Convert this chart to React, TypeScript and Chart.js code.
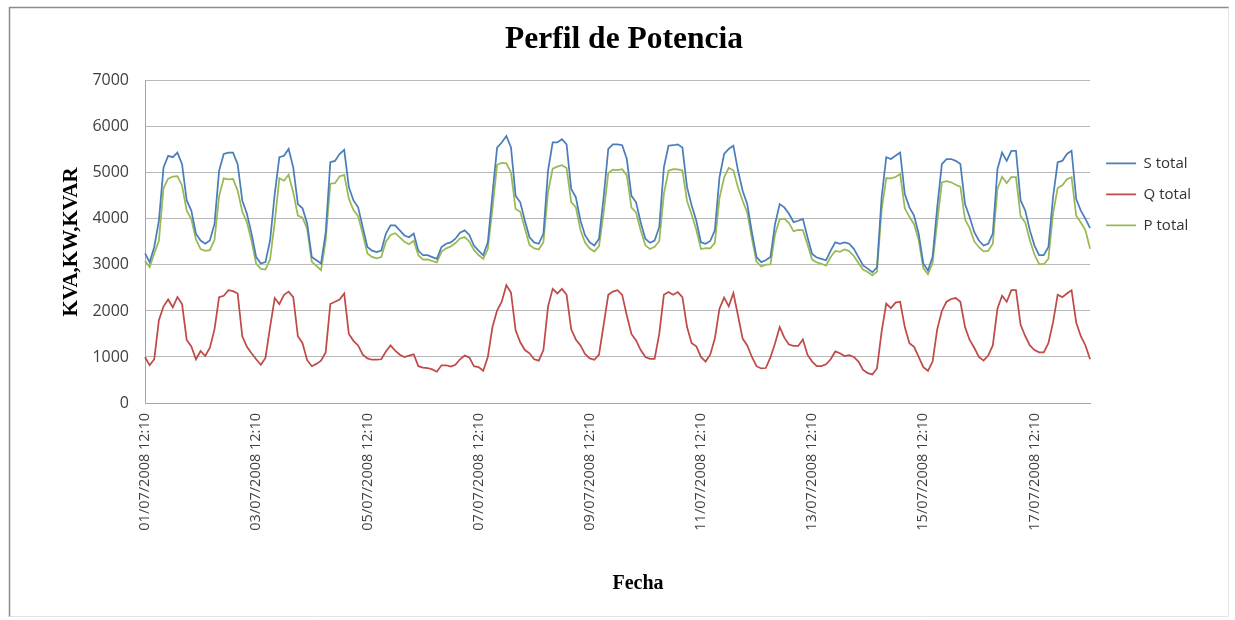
import { useEffect, useRef } from 'react';
import { Chart, registerables } from 'chart.js';

Chart.register(...registerables);

const CHART_TITLE = 'Perfil de Potencia';
const Y_TITLE = 'KVA,KW,KVAR';
const X_TITLE = 'Fecha';
const SERIES_NAMES = ['S total', 'Q total', 'P total'];
const SERIES_COLORS = ['#4a7ebb', '#be4b48', '#98b954'];

// x-axis labels shown every 2 days (24 samples of 2 h)
const TICK_LABELS = [
  '01/07/2008 12:10', '03/07/2008 12:10', '05/07/2008 12:10', '07/07/2008 12:10',
  '09/07/2008 12:10', '11/07/2008 12:10', '13/07/2008 12:10', '15/07/2008 12:10',
  '17/07/2008 12:10',
];
const TICK_EVERY = 24;
const SAMPLE_HOURS = 2;

// S total (kVA), one sample each 2 h, from 01/07/2008 12:10
const S_TOTAL = [
  3250, 3060, 3390, 3960, 5120, 5370, 5340, 5440, 5190, 4400, 4180, 3680,
  3530, 3460, 3530, 3890, 5050, 5410, 5440, 5440, 5190, 4400, 4110, 3680,
  3170, 3030, 3060, 3530, 4540, 5340, 5370, 5520, 5120, 4320, 4230, 3900,
  3170, 3100, 3030, 3700, 5230, 5260, 5410, 5500, 4690, 4400, 4250, 3820,
  3390, 3310, 3280, 3310, 3680, 3860, 3860, 3750, 3640, 3600, 3680, 3310,
  3210, 3210, 3170, 3130, 3390, 3460, 3490, 3570, 3700, 3750, 3650, 3420,
  3310, 3210, 3490, 4540, 5550, 5660, 5800, 5550, 4500, 4360, 3960, 3600,
  3490, 3460, 3680, 5050, 5660, 5660, 5730, 5620, 4650, 4470, 3960, 3640,
  3490, 3420, 3570, 4470, 5520, 5620, 5620, 5600, 5300, 4500, 4360, 3920,
  3570, 3480, 3530, 3820, 5120, 5590, 5600, 5620, 5550, 4690, 4290, 3960,
  3490, 3460, 3520, 3750, 4900, 5410, 5520, 5590, 5050, 4610, 4320, 3710,
  3170, 3060, 3100, 3170, 3890, 4320, 4250, 4110, 3930, 3960, 4000, 3600,
  3240, 3160, 3130, 3100, 3310, 3490, 3460, 3490, 3460, 3350, 3170, 2990,
  2920, 2840, 2950, 4470, 5340, 5300, 5370, 5440, 4540, 4250, 4070, 3680,
  3030, 2880, 3170, 4250, 5190, 5300, 5300, 5260, 5190, 4320, 4040, 3710,
  3530, 3420, 3460, 3680, 5080, 5440, 5260, 5480, 5480, 4400, 4180, 3750,
  3420, 3210, 3210, 3390, 4470, 5230, 5260, 5410, 5480, 4430, 4180, 4000,
  3800,
];

// Q total (kVAR)
const Q_TOTAL = [
  1000, 820, 950, 1800, 2100, 2250, 2080, 2300, 2150, 1370, 1230, 950,
  1130, 1020, 1200, 1600, 2300, 2330, 2450, 2430, 2380, 1450, 1220, 1080,
  950, 830, 980, 1650, 2280, 2150, 2350, 2420, 2300, 1450, 1300, 930,
  800, 850, 920, 1100, 2150, 2200, 2250, 2380, 1500, 1350, 1250, 1050,
  970, 940, 940, 950, 1120, 1250, 1140, 1050, 1000, 1030, 1060, 800,
  770, 760, 730, 680, 820, 820, 790, 830, 950, 1030, 990, 800,
  780, 700, 1000, 1650, 2010, 2200, 2560, 2400, 1580, 1320, 1150, 1080,
  950, 920, 1150, 2100, 2480, 2380, 2480, 2350, 1600, 1380, 1250, 1060,
  970, 940, 1050, 1700, 2350, 2420, 2450, 2350, 1900, 1500, 1360, 1150,
  1000, 960, 960, 1500, 2350, 2410, 2350, 2410, 2300, 1650, 1300, 1230,
  1000, 900, 1050, 1400, 2050, 2290, 2100, 2390, 1900, 1400, 1250, 1000,
  800, 750, 760, 990, 1300, 1650, 1420, 1270, 1240, 1240, 1380, 1050,
  900, 800, 800, 840, 950, 1120, 1080, 1020, 1040, 1000, 900, 720,
  650, 620, 750, 1550, 2160, 2060, 2180, 2200, 1650, 1300, 1220, 1000,
  780, 700, 900, 1600, 2000, 2200, 2260, 2280, 2200, 1650, 1370, 1200,
  1000, 920, 1030, 1250, 2050, 2330, 2200, 2450, 2450, 1700, 1450, 1250,
  1150, 1100, 1100, 1300, 1750, 2350, 2300, 2380, 2450, 1750, 1450, 1250,
  950,
];

// P total (kW)
const P_TOTAL = [
  3090, 2950, 3250, 3525, 4670, 4875, 4920, 4930, 4720, 4180, 3995, 3555,
  3345, 3305, 3320, 3545, 4495, 4880, 4860, 4870, 4615, 4155, 3925, 3520,
  3025, 2915, 2900, 3120, 3925, 4885, 4830, 4960, 4575, 4070, 4025, 3785,
  3070, 2980, 2885, 3535, 4765, 4775, 4920, 4955, 4440, 4190, 4060, 3670,
  3250, 3175, 3145, 3170, 3505, 3650, 3690, 3600, 3500, 3450, 3525, 3210,
  3115, 3120, 3085, 3055, 3290, 3360, 3400, 3475, 3575, 3605, 3510, 3325,
  3215, 3130, 3345, 4230, 5175, 5215, 5205, 5005, 4215, 4155, 3790, 3435,
  3360, 3335, 3495, 4590, 5090, 5135, 5165, 5105, 4365, 4250, 3760, 3480,
  3355, 3290, 3410, 4135, 4995, 5070, 5060, 5080, 4950, 4245, 4140, 3750,
  3425, 3345, 3395, 3515, 4545, 5045, 5080, 5075, 5050, 4390, 4090, 3765,
  3345, 3365, 3360, 3480, 4450, 4900, 5105, 5055, 4680, 4395, 4135, 3570,
  3070, 2965, 3005, 3010, 3665, 3990, 4005, 3910, 3730, 3760, 3755, 3445,
  3115, 3055, 3025, 2985, 3170, 3305, 3285, 3335, 3300, 3195, 3040, 2900,
  2845, 2770, 2855, 4195, 4885, 4880, 4910, 4975, 4230, 4045, 3885, 3540,
  2930, 2795, 3040, 3935, 4790, 4820, 4795, 4740, 4700, 3990, 3800, 3510,
  3385, 3295, 3305, 3460, 4650, 4915, 4780, 4905, 4905, 4060, 3920, 3535,
  3220, 3015, 3015, 3130, 4115, 4670, 4730, 4860, 4905, 4070, 3920, 3750,
  3350,
];

const pad2 = (n: number) => (n < 10 ? '0' + n : '' + n);

function buildCategories(count: number): string[] {
  const out: string[] = [];
  for (let i = 0; i < count; i++) {
    const hours = 12 + i * SAMPLE_HOURS;
    const day = 1 + Math.floor(hours / 24);
    const h = hours % 24;
    out.push(`${pad2(day)}/07/2008 ${pad2(h)}:10`);
  }
  return out;
}

export default function App() {
  const canvasRef = useRef<HTMLCanvasElement | null>(null);

  useEffect(() => {
    const canvas = canvasRef.current;
    if (!canvas) return;
    const categories = buildCategories(S_TOTAL.length);

    const framePlugin = {
      id: 'frame',
      beforeDraw(chart: any) {
        const ctx = chart.ctx as CanvasRenderingContext2D;
        ctx.save();
        ctx.fillStyle = '#ffffff';
        ctx.fillRect(0, 0, chart.width, chart.height);
        ctx.lineWidth = 1.5;
        ctx.strokeStyle = '#8c8c8c';
        ctx.beginPath();
        ctx.moveTo(9.5, 617);
        ctx.lineTo(9.5, 7.5);
        ctx.lineTo(1229, 7.5);
        ctx.stroke();
        ctx.lineWidth = 1;
        ctx.strokeStyle = '#e2e2e2';
        ctx.beginPath();
        ctx.moveTo(1228.5, 7.5);
        ctx.lineTo(1228.5, 616.5);
        ctx.lineTo(9.5, 616.5);
        ctx.stroke();
        ctx.restore();
      },
      afterDraw(chart: any) {
        const ctx = chart.ctx as CanvasRenderingContext2D;
        ctx.save();
        ctx.fillStyle = '#000000';
        ctx.font = 'bold 20px "Liberation Serif", "Times New Roman", serif';
        ctx.textAlign = 'center';
        ctx.textBaseline = 'middle';
        ctx.fillText(X_TITLE, 638, 584);
        ctx.restore();
      },
    };

    const seriesData = [S_TOTAL, Q_TOTAL, P_TOTAL];

    const chart = new Chart(canvas, {
      type: 'line',
      data: {
        labels: categories,
        datasets: seriesData.map((d, i) => ({
          label: SERIES_NAMES[i],
          data: d,
          borderColor: SERIES_COLORS[i],
          backgroundColor: SERIES_COLORS[i],
          borderWidth: 1.75,
          pointRadius: 0,
          tension: 0,
          fill: false,
        })),
      },
      options: {
        responsive: false,
        animation: false,
        devicePixelRatio: 1,
        layout: { padding: { top: 0, left: 47, right: 34, bottom: 0 } },
        plugins: {
          title: {
            display: true,
            text: CHART_TITLE,
            color: '#000000',
            font: { family: '"Liberation Serif", "Times New Roman", serif', size: 31.5, weight: 'bold' },
            padding: { top: 21, bottom: 22 },
          },
          legend: {
            position: 'right',
            align: 'start',
            fullSize: false,
            title: { display: true, text: ' ', font: { size: 10 }, padding: { top: 47, bottom: 0 } },
            labels: {
              usePointStyle: true,
              pointStyle: 'line',
              pointStyleWidth: 30,
              padding: 16,
              color: '#333333',
              font: { family: '"Open Sans", sans-serif', size: 15 },
            },
          },
          tooltip: { enabled: false },
        },
        scales: {
          x: {
            type: 'category',
            grid: { display: false, drawTicks: false },
            border: { display: true, color: '#a6a6a6', width: 1 },
            ticks: {
              autoSkip: false,
              minRotation: 90,
              maxRotation: 90,
              padding: 10,
              color: '#404040',
              font: { family: '"Open Sans", sans-serif', size: 14.5 },
              callback: (_v: any, index: number) =>
                index % TICK_EVERY === 0 ? TICK_LABELS[index / TICK_EVERY] ?? '' : '',
            },
            afterFit: (s: any) => {
              s.height = 217;
            },
          },
          y: {
            min: 0,
            max: 7000,
            grid: { color: '#b8b8b8', drawTicks: false },
            border: { display: true, color: '#a6a6a6', width: 1 },
            ticks: {
              stepSize: 1000,
              padding: 16,
              color: '#404040',
              font: { family: '"Open Sans", sans-serif', size: 16 },
              callback: (v: any) => String(v),
            },
            title: {
              display: true,
              text: Y_TITLE,
              color: '#000000',
              font: { family: '"Liberation Serif", "Times New Roman", serif', size: 21, weight: 'bold' },
              padding: { top: 12, bottom: 0 },
            },
            afterFit: (s: any) => {
              s.width = 98;
            },
          },
        },
      },
      plugins: [framePlugin],
    } as any);

    return () => chart.destroy();
  }, []);

  return (
    <div style={{ position: 'absolute', left: 0, top: 0, width: 1235, height: 620, background: '#ffffff' }}>
      <canvas ref={canvasRef} width={1235} height={620} style={{ display: 'block' }} />
    </div>
  );
}
